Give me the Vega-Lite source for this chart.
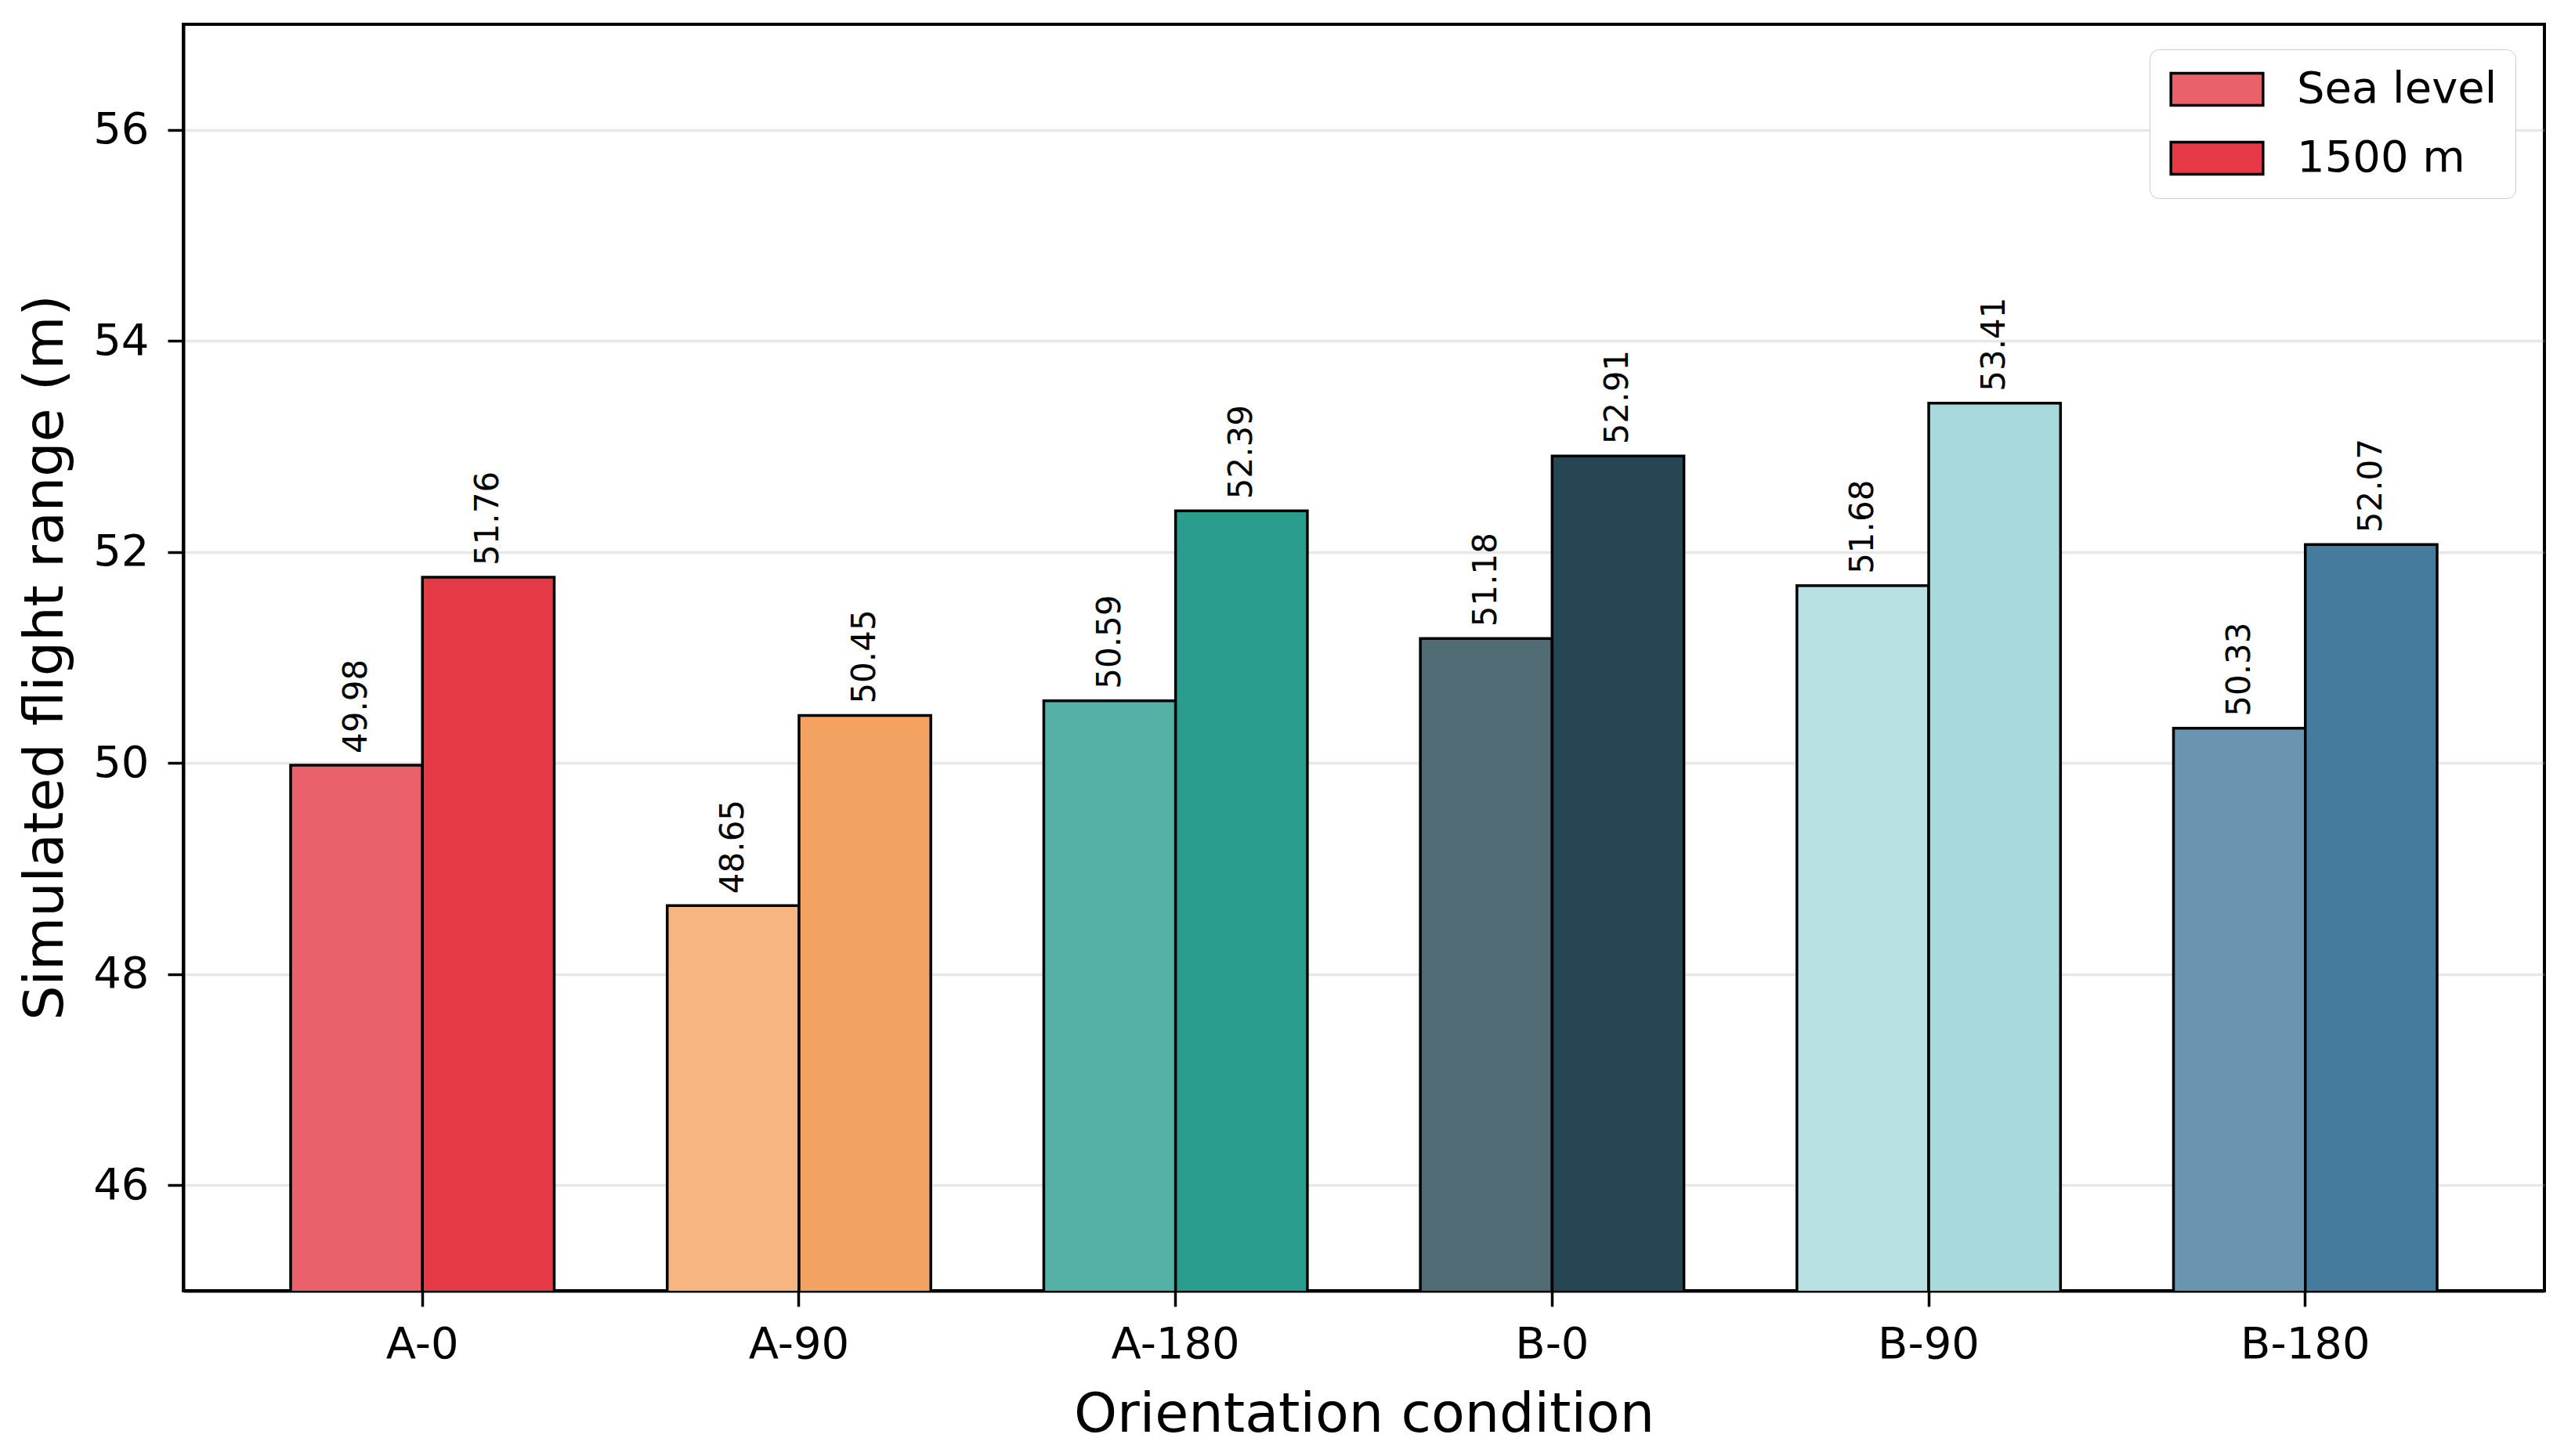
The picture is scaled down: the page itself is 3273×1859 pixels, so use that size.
{
  "$schema": "https://vega.github.io/schema/vega-lite/v6.json",
  "width": 3014,
  "height": 1617,
  "autosize": {"type": "none"},
  "padding": {"left": 234, "top": 31, "right": 25, "bottom": 211},
  "background": "white",
  "data": {
    "values": [
      {"condition": "A-0", "altitude": "Sea level", "key": "A-0|Sea level", "value": 49.98},
      {"condition": "A-0", "altitude": "1500 m", "key": "A-0|1500 m", "value": 51.76},
      {"condition": "A-90", "altitude": "Sea level", "key": "A-90|Sea level", "value": 48.65},
      {"condition": "A-90", "altitude": "1500 m", "key": "A-90|1500 m", "value": 50.45},
      {"condition": "A-180", "altitude": "Sea level", "key": "A-180|Sea level", "value": 50.59},
      {"condition": "A-180", "altitude": "1500 m", "key": "A-180|1500 m", "value": 52.39},
      {"condition": "B-0", "altitude": "Sea level", "key": "B-0|Sea level", "value": 51.18},
      {"condition": "B-0", "altitude": "1500 m", "key": "B-0|1500 m", "value": 52.91},
      {"condition": "B-90", "altitude": "Sea level", "key": "B-90|Sea level", "value": 51.68},
      {"condition": "B-90", "altitude": "1500 m", "key": "B-90|1500 m", "value": 53.41},
      {"condition": "B-180", "altitude": "Sea level", "key": "B-180|Sea level", "value": 50.33},
      {"condition": "B-180", "altitude": "1500 m", "key": "B-180|1500 m", "value": 52.07}
    ]
  },
  "encoding": {
    "x": {
      "field": "condition",
      "type": "nominal",
      "sort": ["A-0", "A-90", "A-180", "B-0", "B-90", "B-180"],
      "scale": {"paddingInner": 0.3, "paddingOuter": 0.285},
      "title": "Orientation condition",
      "axis": {
        "labelAngle": 0,
        "labelPadding": 21,
        "grid": false,
        "titleY": 179,
        "titleBaseline": "alphabetic"
      }
    },
    "xOffset": {
      "field": "altitude",
      "type": "nominal",
      "sort": ["Sea level", "1500 m"],
      "scale": {"paddingInner": 0, "paddingOuter": 0}
    },
    "y": {
      "field": "value",
      "type": "quantitative",
      "scale": {"domain": [45, 57], "zero": false, "nice": false},
      "title": "Simulated flight range (m)",
      "axis": {
        "values": [46, 48, 50, 52, 54, 56],
        "format": "d",
        "grid": true,
        "gridColor": "#b0b0b0",
        "gridOpacity": 0.3,
        "gridWidth": 3.5,
        "labelPadding": 24,
        "titleAngle": 270,
        "titleX": -155,
        "titleY": 808,
        "titleAlign": "center",
        "titleBaseline": "alphabetic"
      }
    }
  },
  "layer": [
    {
      "mark": {"type": "bar", "stroke": "black", "strokeWidth": 3.5, "clip": true},
      "encoding": {
        "fill": {
          "field": "key",
          "type": "nominal",
          "scale": {
            "domain": ["A-0|Sea level", "A-0|1500 m", "A-90|Sea level", "A-90|1500 m", "A-180|Sea level", "A-180|1500 m", "B-0|Sea level", "B-0|1500 m", "B-90|Sea level", "B-90|1500 m", "B-180|Sea level", "B-180|1500 m"],
            "range": ["#EB616B", "#E63946", "#F6B581", "#F4A261", "#55B1A5", "#2A9D8F", "#516B75", "#264653", "#B9E1E3", "#A8DADC", "#6A95B1", "#457B9D"]
          },
          "legend": {
            "title": null,
            "orient": "none",
            "legendX": 2510,
            "legendY": 32,
            "values": ["A-0|Sea level", "A-0|1500 m"],
            "labelExpr": "indexof(datum.label, 'Sea') >= 0 ? 'Sea level' : '1500 m'",
            "symbolType": "M-2.45,-0.85H2.45V0.85H-2.45Z",
            "symbolSize": 2304,
            "symbolStrokeColor": "black",
            "symbolStrokeWidth": 3.5,
            "symbolOpacity": 1,
            "symbolOffset": 35,
            "labelOffset": 74,
            "labelFontSize": 56,
            "labelLimit": 500,
            "labelColor": "black",
            "labelBaseline": "middle",
            "rowPadding": 32,
            "padding": 23,
            "strokeColor": "#cccccc",
            "cornerRadius": 12,
            "fillColor": "white"
          }
        }
      }
    },
    {
      "mark": {"type": "text", "angle": 270, "align": "left", "baseline": "middle", "dx": 15, "fontSize": 42, "color": "black"},
      "encoding": {
        "text": {"field": "value", "type": "quantitative", "format": ".2f"}
      }
    }
  ],
  "config": {
    "font": "DejaVu Sans",
    "view": {"stroke": "black", "strokeWidth": 4},
    "axis": {
      "labelFontSize": 56,
      "titleFontSize": 70,
      "titleFontWeight": "normal",
      "labelColor": "black",
      "titleColor": "black",
      "tickColor": "black",
      "domainColor": "black",
      "tickSize": 20,
      "tickWidth": 3.5,
      "domainWidth": 4,
      "zindex": 1
    }
  }
}
